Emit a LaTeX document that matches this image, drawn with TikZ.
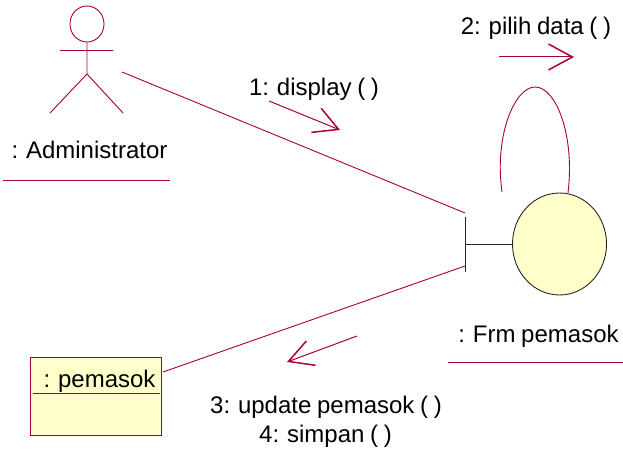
\documentclass[tikz,border=0pt]{standalone}
\usepackage{fontspec}
\setmainfont[WordSpace=0.85]{Liberation Sans}
\usetikzlibrary{shapes, positioning, arrows.meta}
\definecolor{RoseLine}{HTML}{A80036}
\definecolor{RoseFill}{HTML}{FFFFCB}

\begin{document}
\begin{tikzpicture}[
		x=1pt, y=-1pt,
		line width=0.9pt,
		RoseCfg/.style={draw=RoseLine},
		TextCfg/.style={anchor=base, inner sep=0pt, font=\fontsize{24}{29}\selectfont},
		MsgCfg/.style={RoseLine, line width=1pt, -{Straight Barb[length=24pt, width=26pt, line width=1.5pt]}}
		]
		
		\useasboundingbox (0,0) rectangle (623,449);
		
		% actor
		\path 
		(87,24) node [ellipse, RoseCfg, inner sep=0pt, minimum width=34pt, minimum height=36pt] (Head) {}
		(87,50.5) coordinate (Arms)
		(87,74) coordinate (Hip)
		(60,50.5) coordinate (ArmL)
		(113,50.5) coordinate (ArmR)
		(50,113) coordinate (LegL)
		(123,113) coordinate (LegR)
		(122,72) coordinate (ActorEnd);
		
		\draw [RoseLine]
		(Head.south) -- (Hip)
		(ArmL) -- (ArmR)
		(LegL) -- (Hip) -- (LegR);
		
		\path
		(89.5,159) node [TextCfg] (ActorLabel) {: Administrator}
		(3,180) coordinate (ActorLineL)
		(170,180) coordinate (ActorLineR);
		\draw [RoseLine] (ActorLineL) -- (ActorLineR);
		
		% boundary object
		\path
		(559.5,244) node [ellipse, draw=black!85, fill=RoseFill, inner sep=0pt, minimum width=94pt, minimum height=102pt] (Frm) {}
		(465.5,217) coordinate (BarTop)
		(465.5,272) coordinate (BarBot)
		(465.5,244) coordinate (BarMid)
		(465,213) coordinate (FrmIn)
		(465,266) coordinate (FrmOut)
		(502,192) coordinate (LoopA)
		(568,193) coordinate (LoopB);
		
		\draw [black!85]
		(BarTop) -- (BarBot)
		(BarMid) -- (Frm.west);
		
		\draw [RoseLine]
		(LoopA) .. controls (494,135) and (515,87) .. (535,87)
		.. controls (556,87) and (575,135) .. (LoopB);
		
		\path
		(538.5,342) node [TextCfg] (FrmLabel) {: Frm pemasok}
		(448,362.5) coordinate (FrmLineL)
		(623,362.5) coordinate (FrmLineR);
		\draw [RoseLine] (FrmLineL) -- (FrmLineR);
		
		% entity object
		\path
		(30,357) node [rectangle, RoseCfg, fill=RoseFill, anchor=north west, inner sep=0pt, minimum width=131pt, minimum height=78pt] (Pemasok) {}
		(99.5,387) node [TextCfg] (PemasokLabel) {: pemasok}
		(33,393) coordinate (PemasokLineL)
		(160,393) coordinate (PemasokLineR)
		(163,372) coordinate (PemasokOut);
		\draw [RoseLine] (PemasokLineL) -- (PemasokLineR);
		
		% links
		\draw [RoseLine]
		(ActorEnd) -- (FrmIn)
		(FrmOut) -- (PemasokOut);
		
		% messages
		\path
		(314,96) node [TextCfg] (MsgDisplay) {1: display ( )}
		(269,101) coordinate (DisplayA)
		(340,130) coordinate (DisplayB)
		(536,35) node [TextCfg] (MsgPilih) {2: pilih data ( )}
		(499,57) coordinate (PilihA)
		(574,57) coordinate (PilihB)
		(326,413) node [TextCfg] (MsgUpdate) {3: update pemasok ( )}
		(325.5,442) node [TextCfg] (MsgSimpan) {4: simpan ( )}
		(357,336) coordinate (UpdateA)
		(287,362) coordinate (UpdateB);
		
		\draw [MsgCfg] (DisplayA) -- (DisplayB);
		\draw [MsgCfg] (PilihA) -- (PilihB);
		\draw [MsgCfg] (UpdateA) -- (UpdateB);
		\end{tikzpicture}
\end{document}
